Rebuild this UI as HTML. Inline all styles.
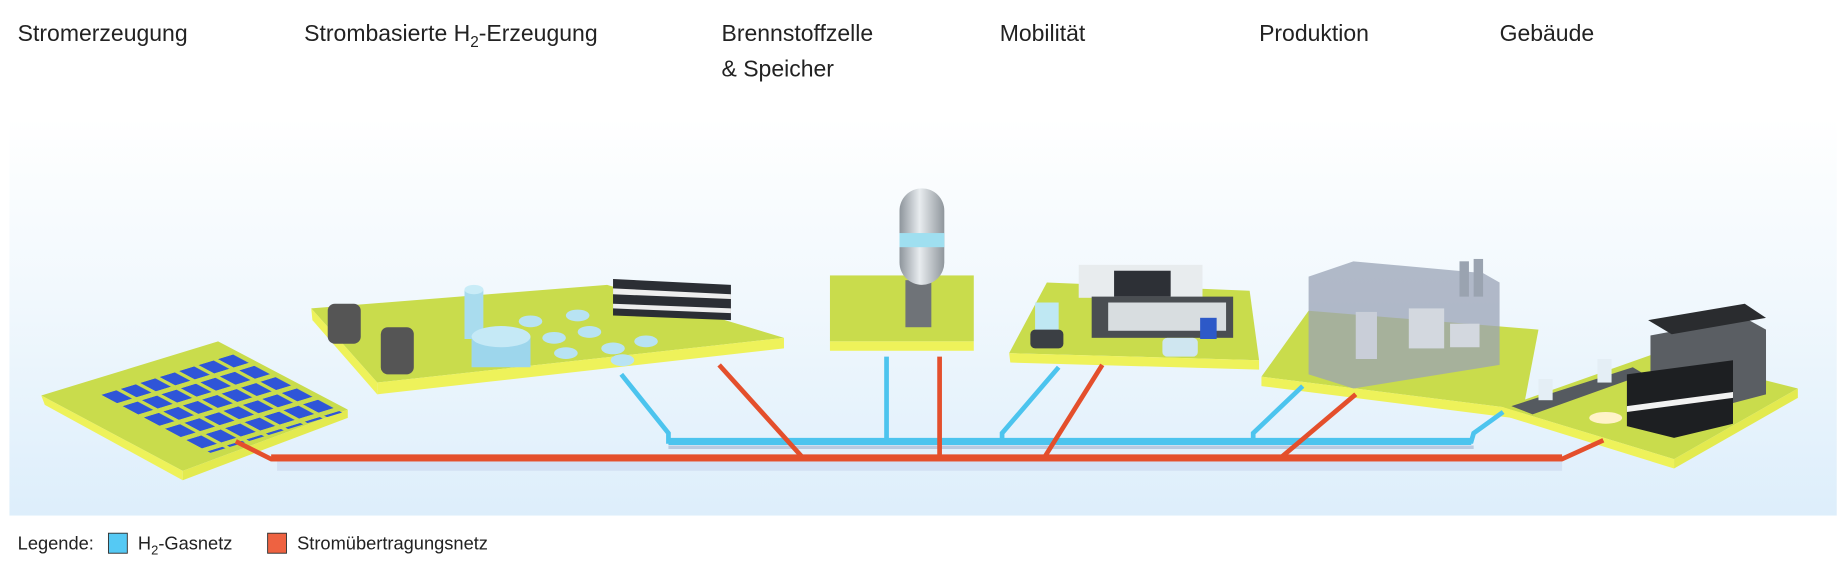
<!DOCTYPE html>
<html><head><meta charset="utf-8"><style>
html,body{margin:0;padding:0;background:#fff;width:1845px;height:565px;overflow:hidden}
svg{display:block}
text{font-family:"Liberation Sans",sans-serif}
</style></head><body>
<svg width="1845" height="565" viewBox="0 0 1565 480" preserveAspectRatio="none" xmlns="http://www.w3.org/2000/svg">
<defs>
<linearGradient id="bg" x1="0" y1="0" x2="0" y2="1">
<stop offset="0" stop-color="#ffffff"/><stop offset="0.45" stop-color="#f1f8fd"/><stop offset="1" stop-color="#ddeefb"/>
</linearGradient>
<linearGradient id="tank" x1="0" y1="0" x2="1" y2="0">
<stop offset="0" stop-color="#8e959c"/><stop offset="0.45" stop-color="#e8ecef"/><stop offset="1" stop-color="#8f969c"/>
</linearGradient>
<pattern id="pv" patternUnits="userSpaceOnUse" width="0.11" height="0.15">
<rect x="0" y="0" width="0.085" height="0.11" fill="#2f55d8"/>
</pattern>
</defs>
<rect x="8" y="100" width="1550" height="338" fill="url(#bg)"/>
<!-- titles -->
<g fill="#222" font-size="19.5">
<text x="15" y="35">Stromerzeugung</text>
<text x="258" y="35">Strombasierte H<tspan font-size="13" dy="5">2</tspan><tspan dy="-5">-Erzeugung</tspan></text>
<text x="612" y="35">Brennstoffzelle</text>
<text x="612" y="65">&amp; Speicher</text>
<text x="848" y="35">Mobilität</text>
<text x="1068" y="35">Produktion</text>
<text x="1272" y="35">Gebäude</text>
</g>
<g fill="#c9d7ee" opacity="0.6">
<rect x="235" y="392" width="1090" height="8"/>
</g>
<!-- platform 1 solar -->
<polygon points="35,336 185,290 295,348 155,400" fill="#c9dc4c"/>
<polygon points="35,336 155,400 155,408 38,344" fill="#eef25a"/>
<polygon points="155,400 295,348 295,355 155,408" fill="#e3ea4f"/>
<g transform="matrix(150,-46,120,64,35,336)">
<rect x="0.22" y="0.12" width="0.76" height="0.8" fill="url(#pv)"/>
</g>
<!-- platform 2 H2 -->
<polygon points="264,262 515,242 665,287 320,325" fill="#c9dc4c"/>
<polygon points="264,262 320,325 320,335 265,272" fill="#eef25a"/>
<polygon points="320,325 665,287 665,296 320,335" fill="#eef25a"/>
<g>
<rect x="278" y="258" width="28" height="34" rx="6" fill="#555"/>
<rect x="323" y="278" width="28" height="40" rx="6" fill="#555"/>
<rect x="394" y="246" width="16" height="42" fill="#a9dcee"/>
<ellipse cx="402" cy="246" rx="8" ry="4" fill="#c9ecf7"/>
<rect x="400" y="286" width="50" height="26" fill="#9dd6ec"/>
<ellipse cx="425" cy="286" rx="25" ry="9" fill="#c5e9f6"/>
<g fill="#b8e3f3">
<ellipse cx="450" cy="273" rx="10" ry="5"/><ellipse cx="490" cy="268" rx="10" ry="5"/>
<ellipse cx="470" cy="287" rx="10" ry="5"/><ellipse cx="500" cy="282" rx="10" ry="5"/>
<ellipse cx="520" cy="296" rx="10" ry="5"/><ellipse cx="548" cy="290" rx="10" ry="5"/>
<ellipse cx="480" cy="300" rx="10" ry="5"/><ellipse cx="528" cy="306" rx="10" ry="5"/>
</g>
<polygon points="520,237 620,242 620,272 520,268" fill="#2b2e34"/>
<polygon points="520,245 620,250 620,254 520,250" fill="#eee"/>
<polygon points="520,258 620,262 620,266 520,262" fill="#eee"/>
</g>
<!-- platform 3 -->
<rect x="704" y="234" width="122" height="56" fill="#c9dc4c"/>
<rect x="704" y="290" width="122" height="8" fill="#eef25a"/>
<rect x="768" y="238" width="22" height="40" fill="#6f7378"/>
<rect x="763" y="160" width="38" height="82" rx="19" fill="url(#tank)"/>
<rect x="763" y="198" width="38" height="12" fill="#9fdff0"/>
<!-- platform 4 mobility -->
<polygon points="888,240 1060,247 1068,306 856,300" fill="#c9dc4c"/>
<polygon points="856,300 1068,306 1068,314 857,308" fill="#eef25a"/>
<rect x="915" y="225" width="105" height="28" fill="#e8ecee"/>
<rect x="945" y="230" width="48" height="22" fill="#2d3036"/>
<rect x="926" y="252" width="120" height="35" fill="#4a4e52"/>
<rect x="940" y="257" width="100" height="24" fill="#d8dde0"/>
<rect x="878" y="257" width="20" height="30" fill="#bfe8f3"/>
<rect x="874" y="280" width="28" height="16" rx="4" fill="#3b3f44"/>
<rect x="986" y="287" width="30" height="16" rx="4" fill="#cfe6f0"/>
<rect x="1018" y="270" width="14" height="18" fill="#2d59c8"/>
<!-- platform 5 production -->
<polygon points="1110,264 1305,280 1292,348 1070,320" fill="#c9dc4c"/>
<polygon points="1070,320 1292,348 1290,356 1070,328" fill="#eef25a"/>
<polygon points="1110,235 1148,222 1258,232 1272,240 1272,310 1148,330 1110,318" fill="#9aa3b5" opacity="0.75"/>
<rect x="1238" y="222" width="8" height="30" fill="#9aa3b0"/>
<rect x="1250" y="220" width="8" height="32" fill="#9aa3b0"/>
<rect x="1150" y="265" width="18" height="40" fill="#c9ced8"/>
<rect x="1195" y="262" width="30" height="34" fill="#d3d8df"/>
<rect x="1230" y="275" width="25" height="20" fill="#d3d8df"/>
<!-- platform 6 buildings -->
<polygon points="1275,346 1405,300 1525,330 1420,390" fill="#c9dc4c"/>
<polygon points="1275,346 1420,390 1420,398 1272,352" fill="#eef25a"/>
<polygon points="1420,390 1525,330 1525,338 1420,398" fill="#e3ea4f"/>
<polygon points="1282,345 1385,312 1395,318 1300,352" fill="#555a60"/>
<polygon points="1400,285 1480,270 1498,280 1498,335 1460,345 1400,330" fill="#5a5e63"/>
<polygon points="1398,272 1480,258 1498,270 1418,284" fill="#2a2c2f"/>
<polygon points="1380,318 1470,306 1470,360 1420,372 1380,362" fill="#1d1f22"/>
<polygon points="1380,345 1470,333 1470,338 1380,350" fill="#f2f2f2"/>
<rect x="1305" y="322" width="12" height="18" fill="#e4eef5"/>
<rect x="1355" y="305" width="12" height="20" fill="#e4eef5"/>
<ellipse cx="1362" cy="355" rx="14" ry="5" fill="#fff3c8"/>
<!-- pipes -->
<g fill="none" stroke-linejoin="miter">
<polyline points="567,380 1250,380" stroke="#8fa3c4" stroke-width="3" opacity="0.5"/>
<g stroke="#4cc4ee" stroke-width="4">
<polyline points="527,318 567,368 567,375 1248,375 1250,368 1275,350"/>
<polyline points="752,303 752,375"/>
<polyline points="898,312 850,368 850,375"/>
<polyline points="1105,328 1063,368 1063,375"/>
</g>
<polyline points="567,375 1248,375" stroke="#4cc4ee" stroke-width="6"/>
<g stroke="#e44f2c" stroke-width="4">
<polyline points="200,375 230,390 1325,390 1360,374"/>
<polyline points="610,310 682,390"/>
<polyline points="797,303 797,390"/>
<polyline points="935,310 885,390"/>
<polyline points="1150,335 1085,390"/>
</g>
<polyline points="230,389 1325,389" stroke="#e44f2c" stroke-width="6"/>
</g>
<!-- legend -->
<g font-size="15.5" fill="#222">
<text x="15" y="467">Legende:</text>
<rect x="92" y="453" width="16" height="17" fill="#55c9f4" stroke="#333" stroke-width="0.8"/>
<text x="117" y="467">H<tspan font-size="11" dy="4">2</tspan><tspan dy="-4">-Gasnetz</tspan></text>
<rect x="227" y="453" width="16" height="17" fill="#ee6241" stroke="#333" stroke-width="0.8"/>
<text x="252" y="467">Stromübertragungsnetz</text>
</g>
</svg>
</body></html>
